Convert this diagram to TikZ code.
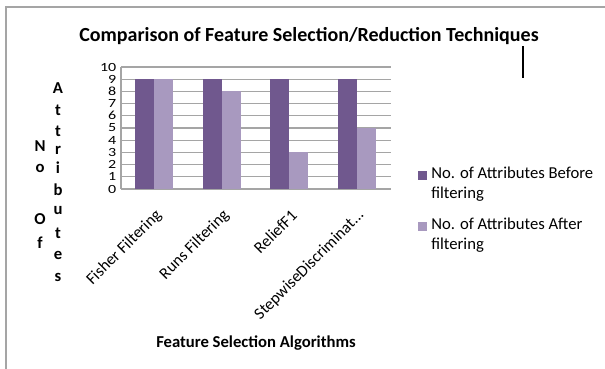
\documentclass[tikz,border=0pt]{standalone}
\usepackage{fontspec}
\setmainfont{Carlito}
\usepackage{xcolor}
\usepackage{tikz}

\definecolor{barbefore}{RGB}{112,88,142}
\definecolor{barafter}{RGB}{168,153,191}
\definecolor{gridgray}{RGB}{165,165,165}

\begin{document}
\begin{tikzpicture}[x=0.75pt,y=0.75pt,yscale=-1,xscale=1,
	gridline/.style={draw=gridgray,line width=0.8pt},
	darkbar/.style={fill=barbefore,draw=none},
	lightbar/.style={fill=barafter,draw=none},
	ticklabel/.style={anchor=east,inner sep=0.3pt,yscale=0.78,font=\fontsize{12}{12}\selectfont},
	catlabel/.style={anchor=east,rotate=45,inner sep=0.75pt,font=\fontsize{12.3}{13}\selectfont},
	axisletter/.style={inner sep=0.5pt,font=\fontsize{12.5}{12.5}\selectfont\bfseries},
	legendtext/.style={anchor=north west,inner sep=0.75pt,align=left,font=\fontsize{12.5}{15}\selectfont}]
	\useasboundingbox (0,0) rectangle (605,368);
	
	%Outer frame
	\draw [draw=gridgray,line width=1.1pt]  (6,375) -- (6,7) -- (612,7) ;
	
	%Grid lines
	\foreach \v in {0,...,10}
		\draw [gridline]  (121,189-12.2*\v) -- (391,189-12.2*\v) ;
	\draw [gridline]  (121,67) -- (121,189) ;
	
	%Bars
	\foreach \i/\b/\a in {0/9/9,1/9/8,2/9/3,3/9/5}{
		\fill [darkbar]  (135+67.5*\i,189) rectangle (154+67.5*\i,189-12.2*\b) ;
		\fill [lightbar]  (154+67.5*\i,189) rectangle (173+67.5*\i,189-12.2*\a) ;
	}
	
	%Tick labels
	\foreach \v in {0,...,10}
		\node [ticklabel] (tick\v) at (117,189-12.2*\v) {\v};
	
	% Text Node
	\node [inner sep=0.75pt,font=\fontsize{15}{17}\selectfont\bfseries] (title) at (309,36) {Comparison of Feature Selection/Reduction Techniques};
	% Text Node
	\node [inner sep=0.75pt,font=\fontsize{12.5}{14}\selectfont\bfseries] (xtitle) at (256,343) {Feature Selection Algorithms};
	
	%Category labels
	\node [catlabel] (fisher) at (160,212) {Fisher Filtering};
	\node [catlabel] (runs) at (227.5,212) {Runs Filtering};
	\node [catlabel] (relief) at (295,212) {ReliefF1};
	\node [catlabel] (stepwise) at (362.5,212) {StepwiseDiscriminat...};
	
	%Y axis title
	\foreach \l/\y in {A/88,t/110,t/131,r/150,i/168,b/190,u/211,t/233,e/255,s/277}
		\node [axisletter] at (58,\y) {\l};
	\node [axisletter] (n) at (40,146) {N};
	\node [axisletter] (o) at (40,168) {o};
	\node [axisletter] (bigo) at (40,219) {O};
	\node [axisletter] (f) at (40,243) {f};
	
	%Legend
	\node [darkbar,minimum size=6.75pt,inner sep=0pt] (keybefore) at (422.5,175) {};
	\node [legendtext] (txtbefore) at (430,166) {No. of Attributes Before\\filtering};
	\node [lightbar,minimum size=6.75pt,inner sep=0pt] (keyafter) at (422.5,226) {};
	\node [legendtext] (txtafter) at (430,217) {No. of Attributes After\\filtering};
	
	%Cursor mark
	\coordinate (marktop) at (523,46);
	\coordinate (markbot) at (523,78);
	\draw [line width=1.2pt]  (marktop) -- (markbot) ;
	
\end{tikzpicture}
\end{document}
